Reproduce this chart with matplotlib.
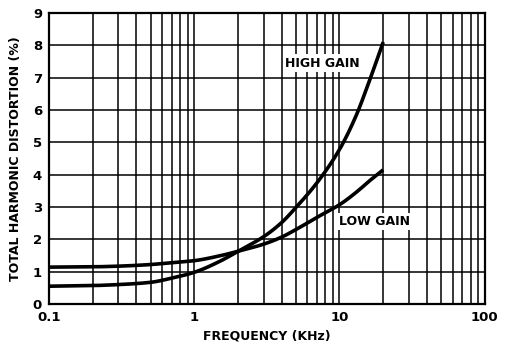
import numpy as np
import matplotlib
matplotlib.use('Agg')
import matplotlib.pyplot as plt
from matplotlib.ticker import FixedLocator, NullFormatter, FixedFormatter

# data
freq = [0.1, 0.2, 0.3, 0.5, 0.7, 1, 1.5, 2, 3, 4, 5, 7, 10, 13, 16, 20]
high_gain = [0.55, 0.57, 0.6, 0.67, 0.8, 0.98, 1.32, 1.63, 2.08, 2.52, 2.98, 3.75, 4.78, 5.82, 6.88, 8.1]
low_gain = [1.14, 1.15, 1.17, 1.22, 1.28, 1.34, 1.49, 1.63, 1.85, 2.07, 2.3, 2.68, 3.07, 3.45, 3.8, 4.15]

x_ticks = [0.1, 1, 10, 100]
x_ticklabels = ['0.1', '1', '10', '100']
y_ticks = list(range(0, 10))

plt.rcParams['font.family'] = 'DejaVu Sans'
plt.rcParams['font.weight'] = 'bold'


def pchip(x, y, xn):
    # monotone cubic interpolation (Fritsch-Carlson)
    x = np.asarray(x, float)
    y = np.asarray(y, float)
    h = np.diff(x)
    d = np.diff(y) / h
    m = np.zeros_like(y)
    for i in range(1, len(y) - 1):
        if d[i - 1] * d[i] > 0:
            w1 = 2 * h[i] + h[i - 1]
            w2 = h[i] + 2 * h[i - 1]
            m[i] = (w1 + w2) / (w1 / d[i - 1] + w2 / d[i])
    m[0] = d[0]
    m[-1] = d[-1]
    idx = np.clip(np.searchsorted(x, xn) - 1, 0, len(h) - 1)
    t = (xn - x[idx]) / h[idx]
    h00 = 2 * t**3 - 3 * t**2 + 1
    h10 = t**3 - 2 * t**2 + t
    h01 = -2 * t**3 + 3 * t**2
    h11 = t**3 - t**2
    return h00 * y[idx] + h10 * h[idx] * m[idx] + h01 * y[idx + 1] + h11 * h[idx] * m[idx + 1]


fig = plt.figure(figsize=(5.06, 3.46), dpi=100)
ax = fig.add_axes([0.0968, 0.1214, 0.8612, 0.841])

ax.set_xscale('log')
ax.set_xlim(0.1, 100)
ax.set_ylim(0, 9)

# smooth curves through the read points in log-x space
lf = np.log10(freq)
xs = np.linspace(lf[0], lf[-1], 400)
ax.plot(10 ** xs, pchip(lf, high_gain, xs), color='black', lw=2.6, zorder=3, solid_capstyle='butt')
ax.plot(10 ** xs, pchip(lf, low_gain, xs), color='black', lw=2.6, zorder=3, solid_capstyle='butt')

# grid: every integer and every log subdivision
minor = [m * 10.0 ** d for d in (-1, 0, 1) for m in range(2, 10)]
ax.xaxis.set_major_locator(FixedLocator(x_ticks))
ax.xaxis.set_major_formatter(FixedFormatter(x_ticklabels))
ax.xaxis.set_minor_locator(FixedLocator(minor))
ax.xaxis.set_minor_formatter(NullFormatter())
ax.yaxis.set_major_locator(FixedLocator(y_ticks))
ax.grid(True, which='both', color='black', lw=1.1)
ax.set_axisbelow(True)
ax.tick_params(which='both', length=0, labelsize=9.5, pad=5)

for s in ax.spines.values():
    s.set_linewidth(1.6)

ax.text(7.6, 7.45, 'HIGH GAIN', fontsize=9, fontweight='bold', ha='center', va='center',
        bbox=dict(facecolor='white', edgecolor='none', pad=1.5), zorder=4)
ax.text(17.5, 2.55, 'LOW GAIN', fontsize=9, fontweight='bold', ha='center', va='center',
        bbox=dict(facecolor='white', edgecolor='none', pad=1.5), zorder=4)

ax.set_xlabel('FREQUENCY (KHz)', fontsize=9, fontweight='bold', labelpad=4)
ax.set_ylabel('TOTAL HARMONIC DISTORTION (%)', fontsize=9, fontweight='bold', labelpad=8)

fig.savefig('out.png', dpi=100)
